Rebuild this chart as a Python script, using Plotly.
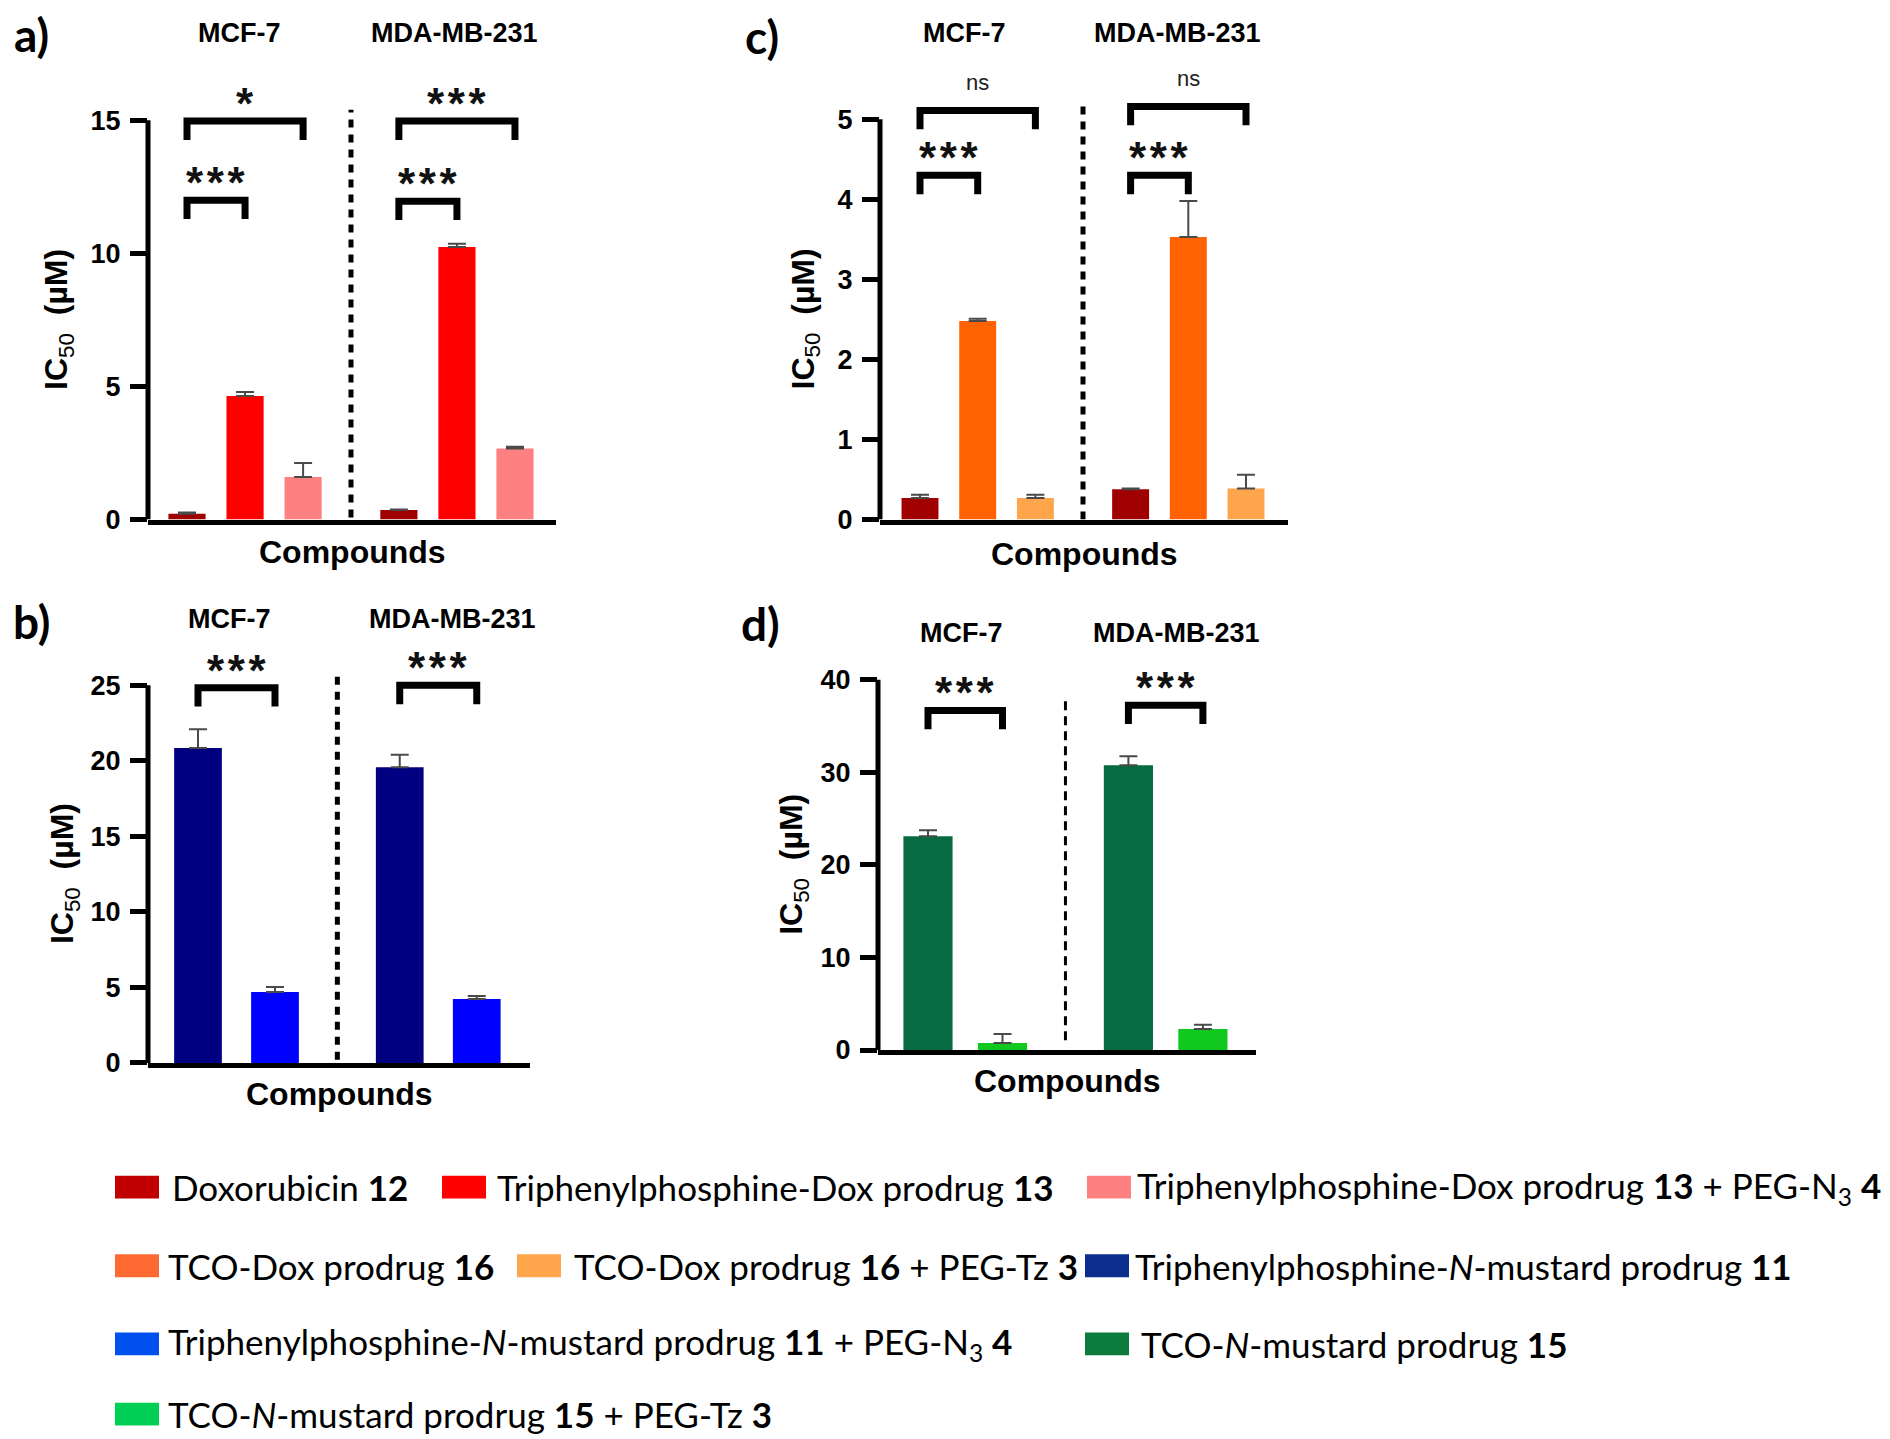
import plotly.graph_objects as go

# IC50 (µM) per compound, ordered [MCF-7, MDA-MB-231]; *_err = upper error whisker
cell_lines = ["MCF-7", "MDA-MB-231"]

dox_a = [0.22, 0.36]
dox_a_err = [0.05, 0.02]
tpp_dox = [4.64, 10.24]
tpp_dox_err = [0.15, 0.12]
tpp_dox_peg = [1.60, 2.67]
tpp_dox_peg_err = [0.53, 0.07]

dox_c = [0.27, 0.38]
dox_c_err = [0.04, 0.01]
tco_dox = [2.48, 3.53]
tco_dox_err = [0.03, 0.45]
tco_dox_tz = [0.27, 0.39]
tco_dox_tz_err = [0.04, 0.17]

tpp_nm = [20.86, 19.57]
tpp_nm_err = [1.24, 0.83]
tpp_nm_peg = [4.69, 4.23]
tpp_nm_peg_err = [0.33, 0.20]

tco_nm = [23.10, 30.76]
tco_nm_err = [0.65, 0.98]
tco_nm_tz = [0.76, 2.27]
tco_nm_tz_err = [0.98, 0.47]

# significance brackets: (first bar, last bar, bracket height in µM, label)
sig_a = [(0, 2, 14.97, "*"), (0, 1, 12.0, "***"), (3, 5, 14.97, "***"), (3, 4, 11.96, "***")]
sig_c = [(0, 2, 5.11, "ns"), (0, 1, 4.30, "***"), (3, 5, 5.16, "ns"), (3, 4, 4.30, "***")]
sig_b = [(0, 1, 24.84, "***"), (2, 3, 25.0, "***")]
sig_d = [(0, 1, 36.68, "***"), (2, 3, 37.25, "***")]

ticks_a = [0, 5, 10, 15]
ticks_c = [0, 1, 2, 3, 4, 5]
ticks_b = [0, 5, 10, 15, 20, 25]
ticks_d = [0, 10, 20, 30, 40]

compounds = [
    "Doxorubicin <b>12</b>",
    "Triphenylphosphine-Dox prodrug <b>13</b>",
    "Triphenylphosphine-Dox prodrug <b>13</b> + PEG-N<sub>3</sub> <b>4</b>",
    "TCO-Dox prodrug <b>16</b>",
    "TCO-Dox prodrug <b>16</b> + PEG-Tz <b>3</b>",
    "Triphenylphosphine-<i>N</i>-mustard prodrug <b>11</b>",
    "Triphenylphosphine-<i>N</i>-mustard prodrug <b>11</b> + PEG-N<sub>3</sub> <b>4</b>",
    "TCO-<i>N</i>-mustard prodrug <b>15</b>",
    "TCO-<i>N</i>-mustard prodrug <b>15</b> + PEG-Tz <b>3</b>",
]
bar_colors = ["#A00000", "#FF0000", "#FF8080", "#FF6200", "#FFA64D",
              "#000080", "#0000FF", "#076B41", "#10C81E"]
legend_colors = ["#C00000", "#FF0000", "#FF8080", "#FF6A33", "#FFA64D",
                 "#0B2E8E", "#0050F0", "#0B7A3A", "#00CF55"]

W, H = 1890, 1439
ARIAL = "Liberation Sans, Arial, sans-serif"
CALIBRI = "Lato, Calibri, sans-serif"

# layout of each panel in page pixels
panels = [
    dict(label="a)", series=[(0, dox_a, dox_a_err), (1, tpp_dox, tpp_dox_err), (2, tpp_dox_peg, tpp_dox_peg_err)],
         ticks=ticks_a, sig=sig_a, px_left=140, px_right=548, px_first=179, pitch=58.05, gap=0.65, bar_w=0.64,
         px_zero=517, px_unit=26.9, y_top=16.6, sep=(0.08, 15.4), sep_w=5, sep_dash="8px,7px",
         label_xy=(4, 27), header_px=(231, 446), header_y=25, ytitle_x=51, xtitle_y=550),
    dict(label="c)", series=[(0, dox_c, dox_c_err), (3, tco_dox, tco_dox_err), (4, tco_dox_tz, tco_dox_tz_err)],
         ticks=ticks_c, sig=sig_c, px_left=872, px_right=1280, px_first=912, pitch=57.7, gap=0.65, bar_w=0.64,
         px_zero=517, px_unit=80.9, y_top=5.55, sep=(0.0, 5.2), sep_w=5, sep_dash="8px,7px",
         label_xy=(735, 29), header_px=(956, 1169), header_y=25, ytitle_x=797, xtitle_y=552),
    dict(label="b)", series=[(5, tpp_nm, tpp_nm_err), (6, tpp_nm_peg, tpp_nm_peg_err)],
         ticks=ticks_b, sig=sig_b, px_left=140, px_right=522, px_first=190, pitch=77, gap=0.62, bar_w=0.62,
         px_zero=1066, px_unit=15.26, y_top=27.6, sep=(0.2, 25.8), sep_w=5, sep_dash="8px,7px",
         label_xy=(3, 620), header_px=(221, 444), header_y=617, ytitle_x=56, xtitle_y=1097),
    dict(label="d)", series=[(7, tco_nm, tco_nm_err), (8, tco_nm_tz, tco_nm_tz_err)],
         ticks=ticks_d, sig=sig_d, px_left=870, px_right=1248, px_first=920, pitch=74.5, gap=0.69, bar_w=0.66,
         px_zero=1053, px_unit=9.355, y_top=44.2, sep=(1.06, 37.9), sep_w=3, sep_dash="9px,6px",
         label_xy=(731, 622), header_px=(953, 1168), header_y=632, ytitle_x=786, xtitle_y=1084),
]

sig_shift = {"*": -9, "***": -9, "ns": 14}

fig = go.Figure()
shapes = []
annotations = []

for i, p in enumerate(panels):
    ax = "" if i == 0 else str(i + 1)
    xr, yr = "x" + ax, "y" + ax
    n = len(p["series"])
    pos = [[g * (n + p["gap"]) + s for s in range(n)] for g in range(2)]

    for s, (ci, vals, errs) in enumerate(p["series"]):
        fig.add_trace(go.Bar(
            x=[pos[0][s], pos[1][s]], y=vals, width=p["bar_w"], name=compounds[ci],
            hovertext=cell_lines, marker=dict(color=bar_colors[ci], line=dict(width=0)),
            error_y=dict(type="data", array=errs, arrayminus=[0, 0], symmetric=False,
                         color="#4a4a4a", thickness=2, width=9),
            xaxis=xr, yaxis=yr, showlegend=False))

    top_px = p["px_zero"] - p["y_top"] * p["px_unit"]
    fig.layout["xaxis" + ax] = dict(
        domain=[p["px_left"] / W, p["px_right"] / W],
        range=[(p["px_left"] - p["px_first"]) / p["pitch"], (p["px_right"] - p["px_first"]) / p["pitch"]],
        anchor=yr, showline=True, linewidth=5, linecolor="black", ticks="", showticklabels=False,
        showgrid=False, zeroline=False)
    fig.layout["yaxis" + ax] = dict(
        domain=[1 - p["px_zero"] / H, 1 - top_px / H], range=[0, p["y_top"]], anchor=xr,
        showline=False, tickvals=p["ticks"], ticks="outside", ticklen=17, tickwidth=5, tickcolor="black",
        ticklabelstandoff=4,
        tickfont=dict(family=ARIAL, size=27, color="black", weight="bold"),
        showgrid=False, zeroline=False)

    # y axis line stops at the last tick, like the original
    shapes.append(dict(type="line", xref=xr + " domain", yref=yr, x0=0, x1=0, y0=0, y1=p["ticks"][-1],
                       line=dict(color="black", width=5)))

    # dashed separator between the two cell lines
    sep_x = (pos[0][-1] + pos[1][0]) / 2
    shapes.append(dict(type="line", xref=xr, yref=yr, x0=sep_x, x1=sep_x, y0=p["sep"][0], y1=p["sep"][1],
                       line=dict(color="black", width=p["sep_w"], dash=p["sep_dash"])))

    # significance brackets
    flat = pos[0] + pos[1]
    leg = 19 / p["px_unit"]
    for b0, b1, h, txt in p["sig"]:
        x0, x1 = flat[b0], flat[b1]
        shapes.append(dict(type="path", xref=xr, yref=yr,
                           path=f"M{x0},{h - leg} L{x0},{h} L{x1},{h} L{x1},{h - leg}",
                           line=dict(color="black", width=7)))
        if txt == "ns":
            font = dict(family=ARIAL, size=22, color="#222222")
            label = txt
        else:
            font = dict(family=ARIAL, size=44, color="#111111", weight="bold")
            label = "\u200a".join(txt)
        annotations.append(dict(x=(x0 + x1) / 2, y=h, xref=xr, yref=yr, text=label, showarrow=False,
                                yanchor="bottom", yshift=sig_shift[txt], font=font))

    # panel letter, cell line headers, axis titles
    annotations.append(dict(x=p["label_xy"][0] / W, y=1 - p["label_xy"][1] / H, xref="paper", yref="paper",
                            text=p["label"], showarrow=False, xanchor="left", yanchor="middle",
                            font=dict(family=CALIBRI, size=46, color="black", weight="bold")))
    for name, hx in zip(cell_lines, p["header_px"]):
        annotations.append(dict(x=hx / W, y=1 - p["header_y"] / H, xref="paper", yref="paper", text=name,
                                showarrow=False, xanchor="center", yanchor="middle",
                                font=dict(family=ARIAL, size=27, color="black", weight="bold")))
    annotations.append(dict(x=0.5, y=1 - p["xtitle_y"] / H, xref=xr + " domain", yref="paper",
                            text="Compounds", showarrow=False, yanchor="middle",
                            font=dict(family=ARIAL, size=32, color="black", weight="bold")))
    annotations.append(dict(x=p["ytitle_x"] / W, y=p["ticks"][-1] / 2, xref="paper", yref=yr,
                            text="<b>IC</b><sub>50</sub><b>\u00a0\u00a0(µM)</b>", textangle=-90,
                            showarrow=False, xanchor="center", yanchor="middle",
                            font=dict(family=ARIAL, size=32, color="black")))

# legend, laid out in rows like the original figure: (row, swatch x, text x)
legend_rows_y = [1191.5, 1271, 1350, 1421]
legend_slots = [(0, 107, 162), (0, 434, 487), (0, 1079, 1127),
                (1, 107, 158), (1, 509, 564), (1, 1077, 1125),
                (2, 107, 158), (2, 1077, 1131),
                (3, 107, 158)]
for ci, (row, sx, tx) in enumerate(legend_slots):
    cy = legend_rows_y[row]
    shapes.append(dict(type="rect", xref="paper", yref="paper", x0=sx / W, x1=(sx + 44) / W,
                       y0=1 - (cy + 11.5) / H, y1=1 - (cy - 11.5) / H,
                       fillcolor=legend_colors[ci], line=dict(width=0)))
    annotations.append(dict(x=tx / W, y=1 - cy / H, xref="paper", yref="paper", text=compounds[ci],
                            showarrow=False, xanchor="left", yanchor="middle",
                            font=dict(family=CALIBRI, size=35, color="black")))

fig.update_layout(
    width=W, height=H, margin=dict(l=0, r=0, t=0, b=0),
    paper_bgcolor="white", plot_bgcolor="white",
    barmode="overlay", showlegend=False,
    shapes=shapes, annotations=annotations,
)

fig.write_html("out.html")
